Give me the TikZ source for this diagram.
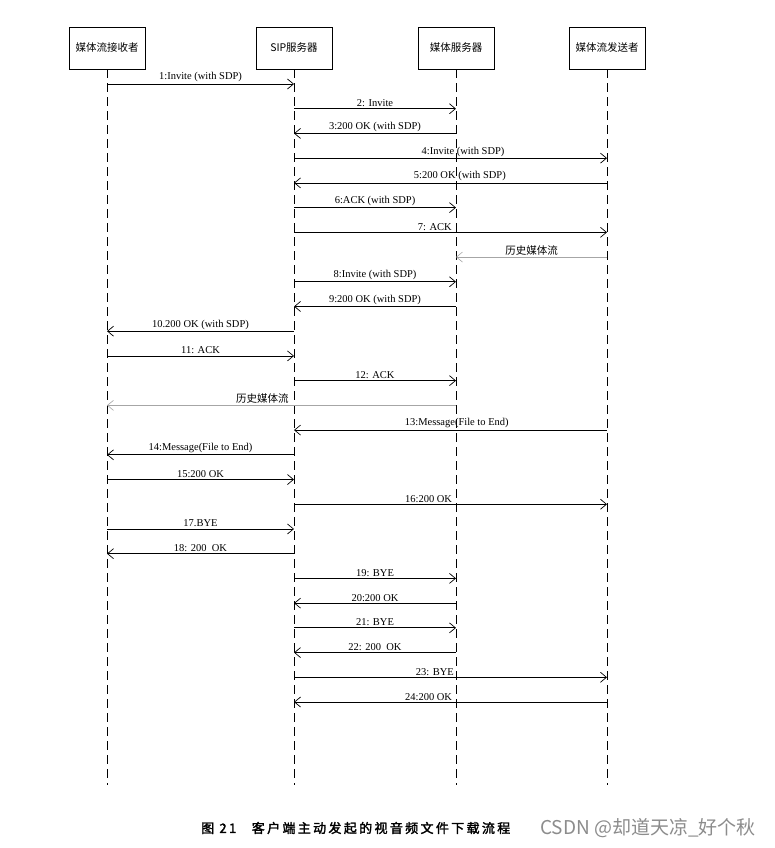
\documentclass[tikz,border=0pt]{standalone}
\usepackage{fontspec}
\setmainfont{Liberation Serif}
\newfontfamily\cjk{Noto Sans CJK SC}
\newfontfamily\cjkbf{Noto Sans CJK SC}[FakeBold=2,LetterSpace=18]
\usetikzlibrary{calc, positioning}
\usetikzlibrary{arrows.meta}

\tikzset{
  actor/.style={draw, line width=0.7pt, minimum width=76pt, minimum height=42pt,
    inner sep=1pt, font=\cjk\fontsize{10.5}{12}\selectfont},
  life/.style={line width=0.9pt, dash pattern=on 9pt off 5pt},
  msg/.style={line width=0.7pt, -{Straight Barb[length=6pt,width=10pt]}},
  hist/.style={line width=0.6pt, black!35, -{Straight Barb[length=6pt,width=10pt]}},
  lbl/.style={above, inner sep=1.5pt, text=black, font=\fontsize{10.5}{12}\selectfont},
}

\begin{document}
\begin{tikzpicture}[x=1pt,y=-1pt]
\useasboundingbox[fill=white] (0,0) rectangle (775,848);

% participants
\node[actor] (rcv) at (107,48) {媒体流接收者};
\node[actor] (sip) at (294,48) {SIP服务器};
\node[actor] (ms)  at (456,48) {媒体服务器};
\node[actor] (snd) at (607,48) {媒体流发送者};

\coordinate (bot) at (0,785);
\draw[life] (rcv.south) -- (rcv|-bot);
\draw[life] (sip.south) -- (sip|-bot);
\draw[life] (ms.south)  -- (ms|-bot);
\draw[life] (snd.south) -- (snd|-bot);

% message rows
\foreach \i in {1,...,26}
  \coordinate (m\i) at (0,{84+(\i-1)*24.72});

\draw[msg] (rcv|-m1) -- (sip|-m1) node[lbl,midway] {1:Invite (with SDP)};
\draw[msg] (sip|-m2) -- (ms|-m2) node[lbl,midway] {2: Invite};
\draw[msg] (ms|-m3) -- (sip|-m3) node[lbl,midway] {3:200 OK (with SDP)};
\draw[msg] (sip|-m4) -- (snd|-m4) node[lbl,pos=0.54] {4:Invite (with SDP)};
\draw[msg] (snd|-m5) -- (sip|-m5) node[lbl,pos=0.47] {5:200 OK (with SDP)};
\draw[msg] (sip|-m6) -- (ms|-m6) node[lbl,midway] {6:ACK (with SDP)};
\draw[msg] (sip|-m7) -- (snd|-m7) node[lbl,pos=0.45] {7: ACK};
\draw[hist] (snd|-m8) -- (ms|-m8) node[lbl,midway,font=\cjk\fontsize{10.5}{12}\selectfont] {历史媒体流};
\draw[msg] (sip|-m9) -- (ms|-m9) node[lbl,midway] {8:Invite (with SDP)};
\draw[msg] (ms|-m10) -- (sip|-m10) node[lbl,midway] {9:200 OK (with SDP)};
\draw[msg] (sip|-m11) -- (rcv|-m11) node[lbl,midway] {10.200 OK (with SDP)};
\draw[msg] (rcv|-m12) -- (sip|-m12) node[lbl,midway] {11: ACK};
\draw[msg] (sip|-m13) -- (ms|-m13) node[lbl,midway] {12: ACK};
\draw[hist] (ms|-m14) -- (rcv|-m14) node[lbl,pos=0.555,font=\cjk\fontsize{10.5}{12}\selectfont] {历史媒体流};
\draw[msg] (snd|-m15) -- (sip|-m15) node[lbl,pos=0.48] {13:Message(File to End)};
\draw[msg] (sip|-m16) -- (rcv|-m16) node[lbl,midway] {14:Message(File to End)};
\draw[msg] (rcv|-m17) -- (sip|-m17) node[lbl,midway] {15:200 OK};
\draw[msg] (sip|-m18) -- (snd|-m18) node[lbl,pos=0.43] {16:200 OK};
\draw[msg] (rcv|-m19) -- (sip|-m19) node[lbl,midway] {17.BYE};
\draw[msg] (sip|-m20) -- (rcv|-m20) node[lbl,midway] {18: 200\ \ OK};
\draw[msg] (sip|-m21) -- (ms|-m21) node[lbl,midway] {19: BYE};
\draw[msg] (ms|-m22) -- (sip|-m22) node[lbl,midway] {20:200 OK};
\draw[msg] (sip|-m23) -- (ms|-m23) node[lbl,midway] {21: BYE};
\draw[msg] (ms|-m24) -- (sip|-m24) node[lbl,midway] {22: 200\ \ OK};
\draw[msg] (sip|-m25) -- (snd|-m25) node[lbl,pos=0.45] {23: BYE};
\draw[msg] (snd|-m26) -- (sip|-m26) node[lbl,pos=0.57] {24:200 OK};

% caption
\node[anchor=west, inner sep=0pt, font=\cjkbf\fontsize{13}{15}\selectfont] (cap) at (201,828)
  {图 21\hspace{1.2em}客户端主动发起的视音频文件下载流程};
\node[anchor=west, inner sep=0pt, text=black!45, font=\cjk\fontsize{19}{22}\selectfont] (mark) at (540,828)
  {CSDN @却道天凉\_好个秋};
\end{tikzpicture}
\end{document}
